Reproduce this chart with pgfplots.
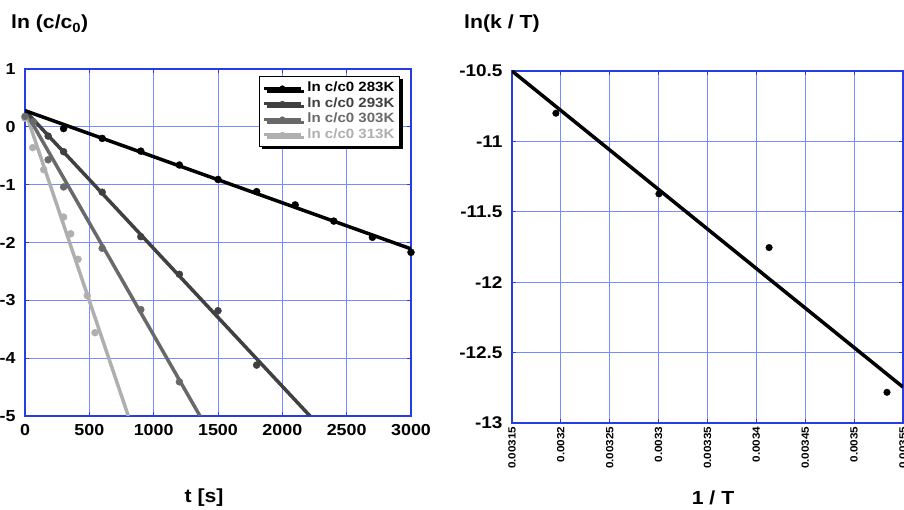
\documentclass[border=0pt]{standalone}
\usepackage{fontspec}
\setmainfont[FakeStretch=1.12]{Liberation Sans}
\usepackage{pgfplots}
\pgfplotsset{compat=1.18}
\usetikzlibrary{shadows}
\definecolor{axblue}{RGB}{40,60,230}
\definecolor{gridblue}{RGB}{120,140,255}
\definecolor{c283}{RGB}{0,0,0}
\definecolor{c293}{RGB}{64,64,64}
\definecolor{c303}{RGB}{105,105,105}
\definecolor{c313}{RGB}{175,175,175}
\pgfplotsset{
  myax/.style={
    scale only axis,
    anchor=south west,
    axis line style={axblue, line width=1.4bp},
    grid=major,
    major grid style={gridblue, line width=0.8bp},
    tick style={axblue, line width=1bp},
    major tick length=4bp,
    tick align=inside,
    /pgf/number format/assume math mode=true,
    /pgf/number format/1000 sep={},
    clip=true,
  }
}
\begin{document}
\begin{tikzpicture}[x=1bp,y=1bp]
\useasboundingbox (0,0) rectangle (904,510);
% ---------------- left axis
\begin{axis}[myax,
  at={(25bp,94bp)}, width=386bp, height=347bp,
  xmin=0, xmax=3000, ymin=-5, ymax=1,
  xtick={0,500,...,3000}, ytick={-5,-4,...,1},
  ticklabel style={font=\bfseries\fontsize{16}{16}\selectfont},
  xticklabel style={yshift=-5bp},
  yticklabel style={xshift=-6bp},
  legend style={at={(0.606,0.98)}, anchor=north west, draw=black, line width=1bp,
    fill=white, font=\bfseries\fontsize{13.5}{14}\selectfont,
    nodes={inner ysep=1.5bp, inner xsep=2bp, text height=10bp, text depth=2.5bp},
    column sep=3bp,
    drop shadow={shadow xshift=3bp, shadow yshift=-3bp, fill=black, opacity=1},
    inner xsep=3bp, inner ysep=4bp},
  legend cell align=left,
  legend image code/.code={%
    \draw[#1, mark=none] (0bp,0bp) -- (37bp,0bp);
    \path[#1, line width=0.5bp] plot coordinates {(18.5bp,0bp)};},
]
\addlegendimage{c283, line width=3bp, mark=*, mark size=2.5bp}
\addlegendentry{\textcolor{c283}{ln c/c0 283K}}
\addlegendimage{c293, line width=3bp, mark=*, mark size=2.5bp}
\addlegendentry{\textcolor{c293}{ln c/c0 293K}}
\addlegendimage{c303, line width=3bp, mark=*, mark size=2.5bp}
\addlegendentry{\textcolor{c303}{ln c/c0 303K}}
\addlegendimage{c313, line width=3bp, mark=*, mark size=2.5bp}
\addlegendentry{\textcolor{c313}{ln c/c0 313K}}
% fit lines
\addplot[c313, line width=3.5bp, forget plot] coordinates {(0,0.28) (803,-5)};
\addplot[c303, line width=3.5bp, forget plot] coordinates {(0,0.28) (1360,-5)};
\addplot[c293, line width=3.5bp, forget plot] coordinates {(0,0.28) (2215,-5)};
\addplot[c283, line width=3.5bp, forget plot] coordinates {(0,0.28) (3000,-2.11)};
% data
\addplot[only marks, mark=*, mark size=3.5bp, c313, forget plot] coordinates {
 (0,0.15) (60,-0.36) (145,-0.74) (300,-1.56) (355,-1.85) (412,-2.29) (484,-2.92) (544,-3.56)};
\addplot[only marks, mark=*, mark size=3.5bp, c303, forget plot] coordinates {
 (0,0.18) (65,0.09) (180,-0.57) (300,-1.04) (600,-2.1) (900,-3.16) (1200,-4.41)};
\addplot[only marks, mark=*, mark size=3.5bp, c293, forget plot] coordinates {
 (180,-0.16) (300,-0.43) (600,-1.13) (900,-1.9) (1200,-2.55) (1500,-3.18) (1800,-4.12)};
\addplot[only marks, mark=*, mark size=3.5bp, c283, forget plot] coordinates {
 (300,-0.03) (600,-0.2) (900,-0.42) (1200,-0.66) (1500,-0.91) (1800,-1.12) (2100,-1.35) (2400,-1.63) (2700,-1.91) (3000,-2.17)};
\end{axis}
% ---------------- right axis
\begin{axis}[myax,
  at={(512bp,87bp)}, width=391bp, height=352bp,
  xmin=0.00315, xmax=0.00355, ymin=-13, ymax=-10.5,
  xtick={0.00315,0.0032,0.00325,0.0033,0.00335,0.0034,0.00345,0.0035,0.00355},
  xticklabels={0.00315,0.0032,0.00325,0.0033,0.00335,0.0034,0.00345,0.0035,0.00355},
  scaled x ticks=false,
  ytick={-13,-12.5,-12,-11.5,-11,-10.5},
  yticklabels={-13,-12.5,-12,-11.5,-11,-10.5},
  yticklabel style={font=\bfseries\fontsize{17}{17}\selectfont, xshift=-6bp},
  xticklabel style={font=\bfseries\fontsize{10.5}{10.5}\selectfont, rotate=90, anchor=east, xshift=0bp},
]
\addplot[black, line width=3.5bp] coordinates {(0.00315,-10.5) (0.00355,-12.745)};
\addplot[only marks, mark=*, mark size=3.3bp, black] coordinates {
 (0.0031949,-10.80) (0.0033003,-11.373) (0.0034130,-11.754) (0.0035336,-12.782)};
\end{axis}
% ---------------- labels
\node[anchor=west, inner sep=0, font=\bfseries\fontsize{19}{19}\selectfont] at (11,486) {ln (c/c\textsubscript{0})};
\node[anchor=west, inner sep=0, font=\bfseries\fontsize{19}{19}\selectfont] at (464,486) {ln(k / T)};
\node[inner sep=0, font=\bfseries\fontsize{19}{19}\selectfont] at (204,12) {t [s]};
\node[inner sep=0, font=\bfseries\fontsize{19}{19}\selectfont] at (713,12) {1 / T};
\end{tikzpicture}
\end{document}
